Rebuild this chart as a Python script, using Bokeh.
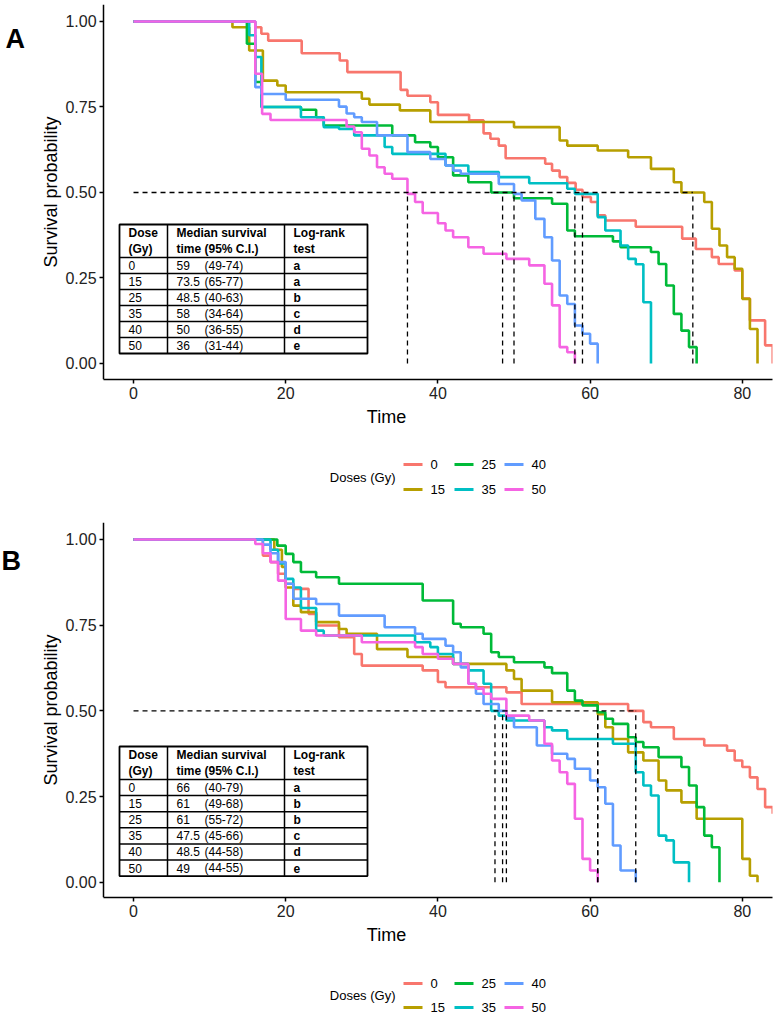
from bokeh.plotting import figure
from bokeh.layouts import column
from bokeh.models import Range1d, FixedTicker, NumeralTickFormatter
from bokeh.core.properties import value
from bokeh.embed import file_html
from bokeh.resources import INLINE

FONT = "Liberation Sans"

doses = ["0", "15", "25", "35", "40", "50"]
colors = ["#F8766D", "#B79F00", "#00BA38", "#00BFC4", "#619CFF", "#F564E3"]
legend_title = "Doses (Gy)"
x_ticks = [0, 20, 40, 60, 80]
y_ticks = [0, 0.25, 0.5, 0.75, 1.0]

# ---------------- Panel A ----------------
a_t_0 = [0, 16, 16.8, 17.7, 22.1, 27.1, 28.1, 35.1, 36, 39, 40, 44.1, 46, 46.9, 48, 48.9, 54.1, 55, 56, 57, 58.1, 59, 60.1, 61, 62, 66, 72.1, 73.9, 76, 76.9, 79, 80, 81, 83, 84]
a_s_0 = [1, 0.983, 0.964, 0.944, 0.907, 0.886, 0.852, 0.80, 0.783, 0.764, 0.727, 0.711, 0.673, 0.657, 0.637, 0.60, 0.584, 0.564, 0.545, 0.528, 0.508, 0.487, 0.472, 0.433, 0.418, 0.40, 0.365, 0.335, 0.311, 0.291, 0.272, 0.19, 0.126, 0.053, 0.0]
a_t_15 = [0, 13, 15.2, 17, 18.9, 20, 30, 31, 35, 39, 50, 56, 57, 61, 65, 68, 71, 72, 75, 76, 77, 78, 79, 80, 81, 82]
a_s_15 = [1, 0.983, 0.915, 0.827, 0.813, 0.793, 0.774, 0.757, 0.74, 0.706, 0.691, 0.652, 0.637, 0.623, 0.603, 0.569, 0.53, 0.50, 0.472, 0.394, 0.345, 0.311, 0.277, 0.189, 0.101, 0.0]
a_t_25 = [0, 14.9, 16, 16.8, 22, 24, 25, 34, 37, 39, 40, 42, 44, 47, 50, 55, 57, 58, 63, 64, 68, 69, 70, 71, 72, 73, 74]
a_s_25 = [1, 0.935, 0.823, 0.75, 0.742, 0.72, 0.696, 0.667, 0.647, 0.633, 0.603, 0.55, 0.53, 0.50, 0.483, 0.467, 0.389, 0.372, 0.357, 0.34, 0.326, 0.291, 0.228, 0.145, 0.096, 0.048, 0.0]
a_t_35 = [0, 15.2, 16, 16.8, 22, 25, 27, 29, 33, 34, 41, 44, 48, 52, 57, 58, 61, 62, 64, 65, 66, 67, 68]
a_s_35 = [1, 0.96, 0.896, 0.75, 0.72, 0.691, 0.686, 0.667, 0.633, 0.613, 0.579, 0.56, 0.545, 0.527, 0.511, 0.496, 0.428, 0.389, 0.345, 0.306, 0.29, 0.179, 0.0]
a_t_40 = [0, 16, 16.8, 20, 27, 28, 29, 30, 32, 36, 39, 41, 42, 43, 48, 50, 51, 52.8, 54, 55, 56, 57, 58, 59, 60, 61]
a_s_40 = [1, 0.808, 0.788, 0.771, 0.751, 0.731, 0.72, 0.706, 0.667, 0.618, 0.598, 0.579, 0.564, 0.555, 0.525, 0.496, 0.477, 0.423, 0.369, 0.301, 0.199, 0.174, 0.111, 0.087, 0.058, 0.0]
a_t_50 = [0, 16, 16.9, 18, 28, 29, 30, 31, 32, 33, 34, 36, 37, 38, 40, 41, 42, 44, 46, 49, 52, 54, 55, 56, 57, 58]
a_s_50 = [1, 0.847, 0.73, 0.712, 0.693, 0.676, 0.628, 0.608, 0.574, 0.555, 0.54, 0.496, 0.472, 0.44, 0.41, 0.389, 0.369, 0.34, 0.321, 0.306, 0.287, 0.233, 0.17, 0.048, 0.033, 0.0]
a_median = [59, 73.5, 48.5, 58, 50, 36]
a_ci = ["(49-74)", "(65-77)", "(40-63)", "(34-64)", "(36-55)", "(31-44)"]
a_test = ["a", "a", "b", "c", "d", "e"]

# ---------------- Panel B ----------------
b_t_0 = [0, 17, 18, 19, 20, 21, 23, 24, 27, 29, 30, 38, 40, 41, 49, 51, 65, 67, 68, 71, 75, 78, 79, 80, 81, 82, 83, 84]
b_s_0 = [1, 0.953, 0.934, 0.90, 0.871, 0.856, 0.783, 0.749, 0.715, 0.666, 0.632, 0.618, 0.584, 0.569, 0.554, 0.52, 0.50, 0.467, 0.452, 0.418, 0.399, 0.384, 0.355, 0.336, 0.306, 0.272, 0.219, 0.20]
b_t_15 = [0, 18.5, 19.5, 20, 21, 22, 24, 27, 28, 32, 36, 42, 49, 50, 51, 55, 61, 62, 63, 65, 67, 69, 70, 72, 74, 80, 81, 82]
b_s_15 = [1, 0.97, 0.92, 0.86, 0.807, 0.788, 0.759, 0.739, 0.725, 0.68, 0.657, 0.637, 0.618, 0.593, 0.559, 0.525, 0.49, 0.452, 0.418, 0.379, 0.355, 0.297, 0.268, 0.233, 0.185, 0.068, 0.019, 0.0]
b_t_25 = [0, 18.9, 20, 21, 22, 24, 27, 38, 42, 43, 46, 47, 48, 50, 54, 55, 57, 58, 59, 61, 62, 63, 65, 66, 67, 69, 72, 73, 74, 75, 76, 77]
b_s_25 = [1, 0.982, 0.958, 0.934, 0.905, 0.89, 0.871, 0.822, 0.754, 0.744, 0.725, 0.671, 0.657, 0.642, 0.627, 0.61, 0.559, 0.53, 0.516, 0.496, 0.477, 0.462, 0.423, 0.409, 0.394, 0.365, 0.336, 0.282, 0.219, 0.136, 0.102, 0.0]
b_t_35 = [0, 18, 19, 20, 21, 22, 24, 25, 37, 39, 40, 42, 44, 46, 47, 48, 49, 54, 55, 57, 63, 66, 67, 68, 69, 70, 71, 73]
b_s_35 = [1, 0.97, 0.93, 0.885, 0.86, 0.80, 0.734, 0.72, 0.70, 0.686, 0.666, 0.637, 0.618, 0.579, 0.50, 0.486, 0.472, 0.452, 0.443, 0.418, 0.404, 0.321, 0.282, 0.253, 0.136, 0.122, 0.058, 0.0]
b_t_40 = [0, 17, 18, 19, 20, 21, 24, 27, 33, 37, 38, 41, 42, 43, 44, 45, 46, 48, 49, 50, 53, 55, 57, 58, 60, 61, 62, 63, 64, 66]
b_s_40 = [1, 0.985, 0.96, 0.934, 0.871, 0.827, 0.812, 0.778, 0.744, 0.725, 0.71, 0.69, 0.671, 0.627, 0.579, 0.55, 0.52, 0.50, 0.48, 0.452, 0.399, 0.375, 0.36, 0.331, 0.297, 0.277, 0.229, 0.107, 0.034, 0.0]
b_t_50 = [0, 16, 17, 18, 19, 20, 22, 24, 30, 37, 38, 40, 42, 44, 45, 46, 47, 49, 52, 54, 55, 56, 57, 58, 59, 60, 61]
b_s_50 = [1, 0.987, 0.96, 0.934, 0.88, 0.768, 0.734, 0.72, 0.70, 0.686, 0.666, 0.652, 0.637, 0.579, 0.565, 0.55, 0.535, 0.486, 0.472, 0.404, 0.355, 0.321, 0.287, 0.185, 0.068, 0.034, 0.0]
b_median = [66, 61, 61, 47.5, 48.5, 49]
b_ci = ["(40-79)", "(49-68)", "(55-72)", "(45-66)", "(44-58)", "(44-55)"]
b_test = ["a", "b", "b", "c", "d", "e"]

table_head = [("Dose", "(Gy)"), ("Median survival", "time (95% C.I.)"), ("Log-rank", "test")]

W = 778
RIGHT = 6
FW = W - RIGHT              # frame spans page x 0..772
XR = (-17.48, 83.97)        # time 0 sits at page x 133
AX_X = -3.94                # y axis drawn at page x 103
FH = 375


def panel(letter, times, survs, medians, cis, tests, height, top, bottom, yr,
          tbl_top, row_h, letter_xy):
    p = figure(width=W, height=height, x_range=Range1d(*XR), y_range=Range1d(*yr),
               output_backend="svg", toolbar_location=None,
               min_border_left=0, min_border_right=RIGHT,
               min_border_top=top, min_border_bottom=bottom)
    p.outline_line_color = None
    p.xgrid.visible = False
    p.ygrid.visible = False
    p.background_fill_color = "white"
    p.border_fill_color = "white"

    def X(px):
        return XR[0] + px / FW * (XR[1] - XR[0])

    def Y(py):
        return yr[1] - (py - top) / FH * (yr[1] - yr[0])

    for t, s, c in zip(times, survs, colors):
        p.step(t, s, mode="after", line_color=c, line_width=2.6)

    dash = dict(line_color="black", line_width=1.3, line_dash="5 4")
    p.segment(x0=[0], y0=[0.5], x1=[max(medians)], y1=[0.5], **dash)
    p.segment(x0=medians, y0=[0] * len(medians), x1=medians,
              y1=[0.5] * len(medians), **dash)

    # inset table (figure-local pixel layout)
    tl, tr, c1, c2 = 119, 367, 167, 284
    hdr = tbl_top + 33
    n = len(doses)
    bot = hdr + n * row_h
    p.quad(left=[X(tl)], right=[X(tr)], top=[Y(tbl_top)], bottom=[Y(bot)],
           fill_color="white", line_color="black", line_width=1.8)
    ys = [Y(hdr + k * row_h) for k in range(n)]
    p.segment(x0=[X(tl)] * n, y0=ys, x1=[X(tr)] * n, y1=ys,
              line_color="black", line_width=1.5)
    p.segment(x0=[X(c1), X(c2)], y0=[Y(tbl_top)] * 2, x1=[X(c1), X(c2)],
              y1=[Y(bot)] * 2, line_color="black", line_width=1.5)

    txt = dict(text_font=value(FONT), text_font_size="12px",
               text_baseline="middle", text_align="left", text_color="black")
    hx = [X(128), X(176), X(293)]
    p.text(x=hx, y=[Y(tbl_top + 8.7)] * 3, text=[h[0] for h in table_head],
           text_font_style="bold", **txt)
    p.text(x=hx, y=[Y(tbl_top + 24.3)] * 3, text=[h[1] for h in table_head],
           text_font_style="bold", **txt)
    ry = [Y(hdr + (k + 0.5) * row_h) for k in range(n)]
    p.text(x=[X(128)] * n, y=ry, text=doses, **txt)
    p.text(x=[X(176)] * n, y=ry, text=[f"{m:g}" for m in medians], **txt)
    p.text(x=[X(204)] * n, y=ry, text=cis, **txt)
    p.text(x=[X(293)] * n, y=ry, text=tests, text_font_style="bold", **txt)

    # panel letter
    p.text(x=[X(letter_xy[0])], y=[Y(letter_xy[1])], text=[letter],
           text_font=value(FONT), text_font_size="27px", text_font_style="bold",
           text_baseline="middle", text_align="left", text_color="black")

    p.xaxis.ticker = FixedTicker(ticks=x_ticks)
    p.yaxis.ticker = FixedTicker(ticks=y_ticks)
    p.yaxis.formatter = NumeralTickFormatter(format="0.00")
    p.yaxis.fixed_location = AX_X
    p.xaxis.bounds = (AX_X, XR[1])
    p.xaxis.axis_label = "Time"
    p.yaxis.axis_label = "Survival probability"
    for ax in (p.xaxis, p.yaxis):
        ax.axis_line_color = "black"
        ax.axis_line_width = 1.5
        ax.major_tick_line_color = "black"
        ax.major_tick_line_width = 1.5
        ax.major_tick_out = 4
        ax.major_tick_in = 0
        ax.minor_tick_line_color = None
        ax.major_label_text_font = FONT
        ax.major_label_text_font_size = "16px"
        ax.major_label_text_color = "#222222"
        ax.major_label_standoff = 3
        ax.axis_label_text_font = FONT
        ax.axis_label_text_font_size = "18px"
        ax.axis_label_text_font_style = "normal"
        ax.axis_label_text_color = "black"
    p.xaxis.axis_label_standoff = 5
    p.yaxis.axis_label_standoff = 1
    return p


def legend_fig(height, row1, row2):
    p = figure(width=W, height=height, x_range=Range1d(0, FW), y_range=Range1d(height, 0),
               output_backend="svg", toolbar_location=None,
               min_border_left=0, min_border_right=RIGHT, min_border_top=0,
               min_border_bottom=0, x_axis_location=None, y_axis_location=None)
    p.outline_line_color = None
    p.xgrid.visible = False
    p.ygrid.visible = False
    rows = [row1, row2]
    key_x = [403, 454, 504]
    kx0, kx1, ky, lx = [], [], [], []
    for i, d in enumerate(doses):
        col, row = i // 2, i % 2
        kx0.append(key_x[col])
        kx1.append(key_x[col] + 19)
        ky.append(rows[row])
        lx.append(key_x[col] + 27)
    p.segment(x0=kx0, y0=ky, x1=kx1, y1=ky, line_color=colors, line_width=3)
    p.text(x=lx, y=ky, text=doses, text_font=value(FONT), text_font_size="13px",
           text_baseline="middle", text_align="left", text_color="black")
    p.text(x=[395], y=[(row1 + row2) / 2], text=[legend_title], text_font=value(FONT),
           text_font_size="13px", text_baseline="middle", text_align="right",
           text_color="black")
    return p


pa = panel("A", [a_t_0, a_t_15, a_t_25, a_t_35, a_t_40, a_t_50],
           [a_s_0, a_s_15, a_s_25, a_s_35, a_s_40, a_s_50],
           a_median, a_ci, a_test, height=440, top=4, bottom=61,
           yr=(-0.0468, 1.0497), tbl_top=224, row_h=16, letter_xy=(5, 38))
la = legend_fig(65, 24, 49)
pb = panel("B", [b_t_0, b_t_15, b_t_25, b_t_35, b_t_40, b_t_50],
           [b_s_0, b_s_15, b_s_25, b_s_35, b_s_40, b_s_50],
           b_median, b_ci, b_test, height=457, top=17, bottom=65,
           yr=(-0.0446, 1.0496), tbl_top=241, row_h=16.1, letter_xy=(1, 55))
lb = legend_fig(52, 21, 45)

layout = column(pa, la, pb, lb, spacing=0)
open("out.html", "w").write(file_html(layout, INLINE))
